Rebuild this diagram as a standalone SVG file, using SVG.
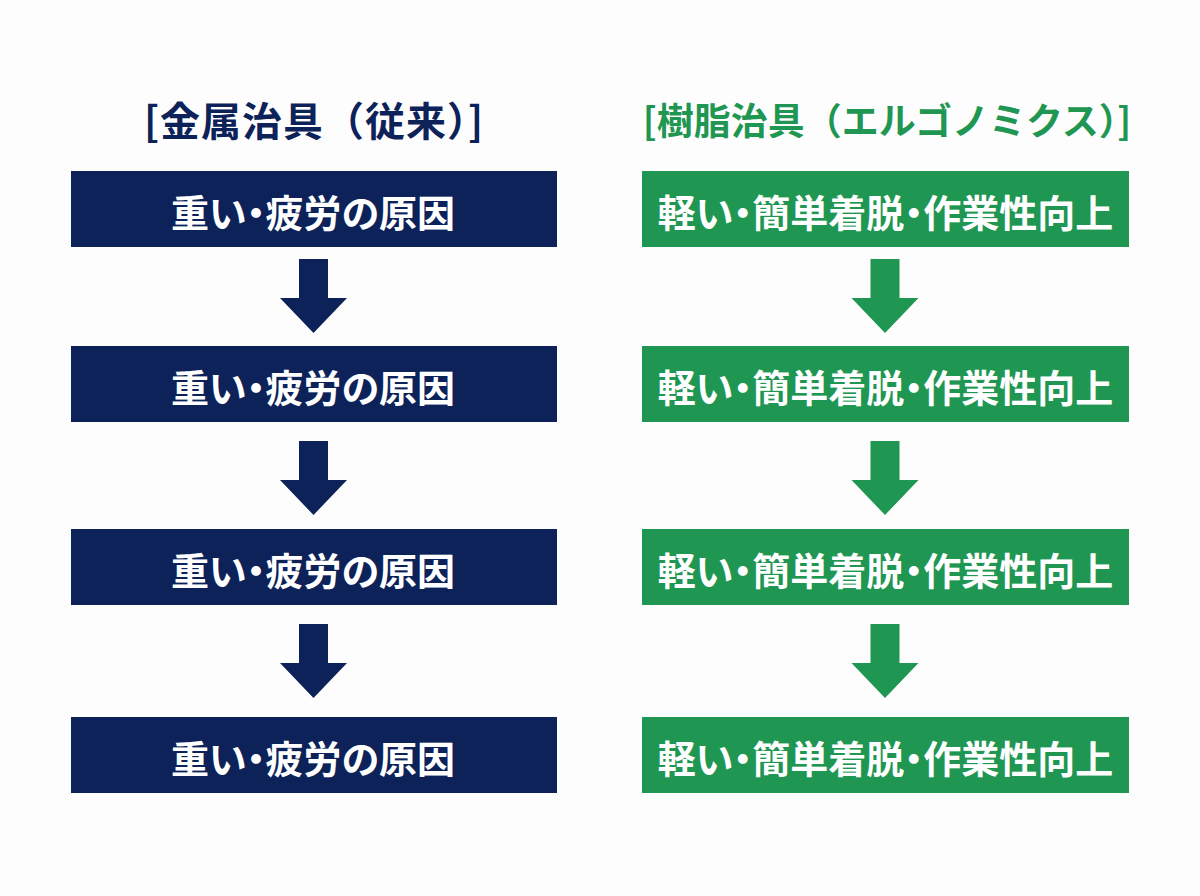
<svg xmlns="http://www.w3.org/2000/svg" width="1200" height="896" viewBox="0 0 1200 896">
<style>
.title{font-family:"Noto Sans CJK JP","Noto Sans CJK SC",sans-serif;font-weight:700;font-size:37px;text-anchor:middle;dominant-baseline:central}
.tl{font-size:40px;letter-spacing:1px}
.lbl{font-family:"Noto Sans CJK JP","Noto Sans CJK SC",sans-serif;font-weight:700;font-size:38px;fill:#ffffff;text-anchor:middle;dominant-baseline:central;font-feature-settings:"palt" 1}
.navy{fill:#0c2259}
.green{fill:#1f9652}
</style>
<defs>
<path id="arr" d="M-14.5,0 H14.5 V39 H33.5 L0,74 L-33.5,39 H-14.5 Z"/>
</defs>
<rect width="1200" height="896" fill="#fdfdfd"/>
<g id="title-left"><text class="title tl navy" x="314" y="119">[金属治具（従来）]</text></g>
<g id="title-right"><text class="title green" x="887" y="119">[樹脂治具（エルゴノミクス）]</text></g>
<g id="connectors">
<use href="#arr" class="navy" x="313.5" y="259"/>
<use href="#arr" class="navy" x="313.5" y="441"/>
<use href="#arr" class="navy" x="313.5" y="624"/>
<use href="#arr" class="green" x="885" y="259"/>
<use href="#arr" class="green" x="885" y="441"/>
<use href="#arr" class="green" x="885" y="624"/>
</g>
<g id="l1"><rect class="navy" x="71" y="171" width="486" height="76"/><text class="lbl" x="313" y="210">重い・疲労の原因</text></g>
<g id="l2"><rect class="navy" x="71" y="346" width="486" height="76"/><text class="lbl" x="313" y="385">重い・疲労の原因</text></g>
<g id="l3"><rect class="navy" x="71" y="529" width="486" height="76"/><text class="lbl" x="313" y="568">重い・疲労の原因</text></g>
<g id="l4"><rect class="navy" x="71" y="717" width="486" height="76"/><text class="lbl" x="313" y="756">重い・疲労の原因</text></g>
<g id="r1"><rect class="green" x="642" y="171" width="487" height="76"/><text class="lbl" x="885.5" y="210">軽い・簡単着脱・作業性向上</text></g>
<g id="r2"><rect class="green" x="642" y="346" width="487" height="76"/><text class="lbl" x="885.5" y="385">軽い・簡単着脱・作業性向上</text></g>
<g id="r3"><rect class="green" x="642" y="529" width="487" height="76"/><text class="lbl" x="885.5" y="568">軽い・簡単着脱・作業性向上</text></g>
<g id="r4"><rect class="green" x="642" y="717" width="487" height="76"/><text class="lbl" x="885.5" y="756">軽い・簡単着脱・作業性向上</text></g>
</svg>
